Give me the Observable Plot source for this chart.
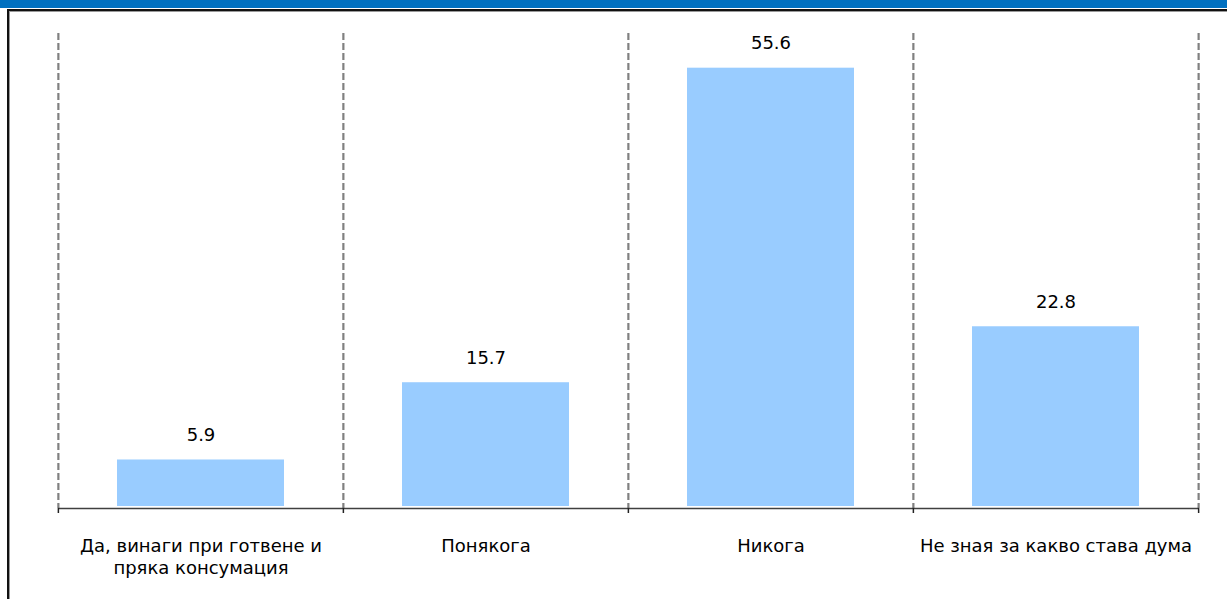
<!DOCTYPE html>
<html>
<head>
<meta charset="utf-8">
<script src="https://cdn.jsdelivr.net/npm/d3@7"></script>
<script src="https://cdn.jsdelivr.net/npm/@observablehq/plot@0.6"></script>
<style>
  html, body { margin: 0; padding: 0; background: #fff; }
  #wrap { position: relative; width: 1227px; height: 599px; overflow: hidden; font-family: "DejaVu Sans", sans-serif; }
  #header { position: absolute; left: 0; top: 0; width: 1227px; height: 8px; background: #0070C0; }
  #frame { position: absolute; left: 7px; top: 9px; width: 1240px; height: 620px; border-left: 2px solid #111; border-top: 2px solid #111; box-shadow: inset 1px 1px 0 #999; }
  #chart { position: absolute; left: 0; top: 0; }
</style>
</head>
<body>
<div id="wrap">
  <div id="header"></div>
  <div id="frame"></div>
  <div id="chart"></div>
</div>
<script>
const categories = ["Да, винаги при готвене и пряка консумация", "Понякога", "Никога", "Не зная за какво става дума"];
const tickLabels = ["Да, винаги при готвене и\nпряка консумация", "Понякога", "Никога", "Не зная за какво става дума"];
const values = [5.9, 15.7, 55.6, 22.8];

const data = categories.map((c, i) => ({category: c, label: tickLabels[i], value: values[i]}));

const W = 1227, H = 599;
const mL = 58, mR = 28, mT = 33, mB = 93;
const step = (W - mL - mR) / categories.length;

const chart = Plot.plot({
  width: W,
  height: H,
  marginLeft: mL,
  marginRight: mR,
  marginTop: mT,
  marginBottom: mB,
  style: {fontFamily: "DejaVu Sans, sans-serif", fontSize: "18px", color: "#000", background: "transparent"},
  x: {domain: categories, paddingInner: 0.414, paddingOuter: 0.207, axis: null},
  y: {domain: [0, 60], axis: null},
  marks: [
    // dashed gridlines at category boundaries
    Plot.ruleX(categories, {x: d => d, y1: 60, y2: 0, dx: -step / 2, stroke: "#808080", strokeWidth: 2.2, strokeDasharray: "7,3", insetBottom: -2}),
    Plot.ruleX(categories.slice(-1), {x: d => d, y1: 60, y2: 0, dx: step / 2, stroke: "#808080", strokeWidth: 2.2, strokeDasharray: "7,3", insetBottom: -2}),
    Plot.barY(data, {x: "category", y: "value", fill: "#99CCFF"}),
    // baseline
    Plot.ruleY([0], {dy: 2, stroke: "#404040", strokeWidth: 1.5}),
    // tick marks
    Plot.ruleX(categories, {x: d => d, y1: 0, y2: 0, dx: -step / 2, insetTop: 2, insetBottom: -7, stroke: "#222", strokeWidth: 1.5}),
    Plot.ruleX(categories.slice(-1), {x: d => d, y1: 0, y2: 0, dx: step / 2, insetTop: 2, insetBottom: -7, stroke: "#222", strokeWidth: 1.5}),
    // value labels
    Plot.text(data, {x: "category", y: "value", text: d => d3.format(".1f")(d.value), lineAnchor: "bottom", dy: -19, fill: "#000", fontSize: 18}),
    // category labels
    Plot.text(data, {x: "category", y: () => 0, text: "label", lineAnchor: "top", dy: 31, lineHeight: 1.17, fill: "#000", fontSize: 18})
  ]
});
document.getElementById("chart").appendChild(chart);
</script>
</body>
</html>
